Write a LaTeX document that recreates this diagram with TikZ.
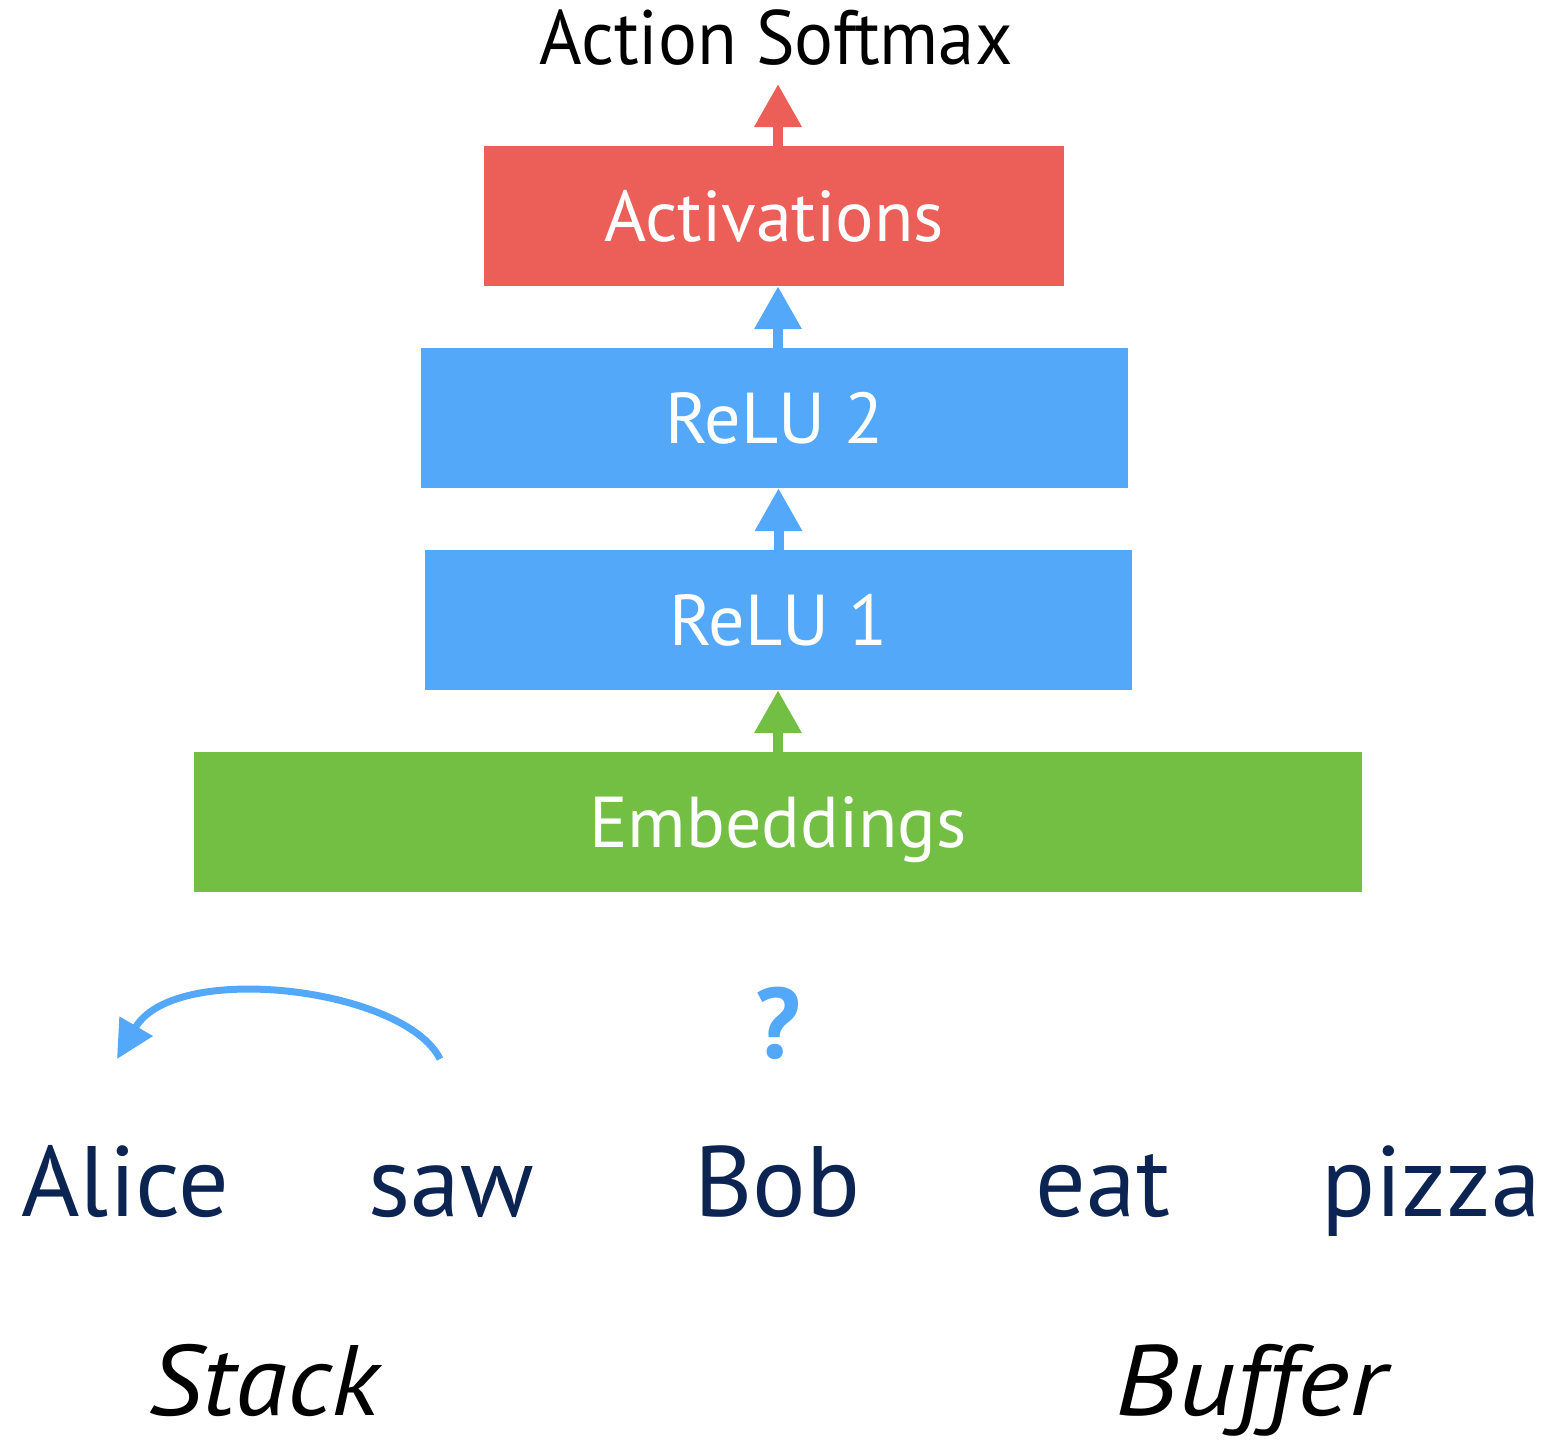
\documentclass[tikz,border=0pt]{standalone}
\usepackage{fontspec}
\setmainfont{PT Sans}
\usetikzlibrary{arrows.meta}
\definecolor{actred}{HTML}{EC5E58}
\definecolor{relublue}{HTML}{53A8FA}
\definecolor{embgreen}{HTML}{72BF44}
\definecolor{wordnavy}{HTML}{0B2452}
\tikzset{
  layerbox/.style={fill=#1, draw=none, inner sep=0pt, text=white,
    text height=60pt, text depth=10pt, font=\fontsize{72}{80}\selectfont},
  uparrow/.style={draw=#1, line width=10pt,
    -{Triangle[width=45pt,length=43pt]}, fill=#1},
  word/.style={anchor=base, text=wordnavy, font=\fontsize{100}{110}\selectfont, inner sep=0pt},
  part/.style={anchor=base, text=black, font=\fontsize{100}{110}\selectfont\itshape, inner sep=0pt}
}
\begin{document}
\begin{tikzpicture}[x=1pt,y=-1pt]
\useasboundingbox (0,0) rectangle (1550,1441);
% boxes
\node[layerbox=actred, minimum width=580pt, minimum height=140pt] (act) at (774,216) {Activations};
\node[layerbox=relublue, minimum width=707pt, minimum height=140pt] (relu2) at (774.5,418) {ReLU 2};
\node[layerbox=relublue, minimum width=707pt, minimum height=140pt] (relu1) at (778.5,620) {ReLU 1};
\node[layerbox=embgreen, minimum width=1168pt, minimum height=140pt] (emb) at (778,822) {Embeddings};
% title
\node[anchor=base, inner sep=0pt, font=\fontsize{77}{85}\selectfont] (softmax) at (776,64) {\scalebox{0.945}[1]{Action Softmax}};
\coordinate (softtip) at (778,84);
% arrows
\draw[uparrow=actred] ([xshift=4pt]act.north) -- (softtip);
\draw[uparrow=relublue] ([xshift=3.5pt]relu2.north) -- ([xshift=3.5pt]relu2.north |- act.south);
\draw[uparrow=relublue] (relu1.north) -- (relu1.north |- relu2.south);
\draw[uparrow=embgreen] (emb.north) -- (emb.north |- relu1.south);
% words
\node[word] (alice) at (125.5,1216) {Alice};
\node[word] (saw) at (451,1216) {saw};
\node[word] (bob) at (777,1216) {Bob};
\node[word] (eat) at (1103,1216) {eat};
\node[word] (pizza) at (1431,1216) {pizza};
\node[anchor=base, inner sep=0pt, text=relublue, font=\fontsize{100}{110}\selectfont\bfseries] (q) at (778,1058) {?};
% arc
\coordinate (arcstart) at (440,1059);
\coordinate (arcend) at (117,1059);
\draw[relublue, line width=7pt, -{Triangle[width=37pt,length=38pt]}]
  (arcstart) .. controls (405,988) and (175,960) .. (arcend);
% labels
\node[part] (stack) at (264,1415) {\scalebox{1.06}[1]{Stack}};
\node[part] (buffer) at (1251,1415) {\scalebox{1.12}[1]{Buffer}};
\end{tikzpicture}
\end{document}
